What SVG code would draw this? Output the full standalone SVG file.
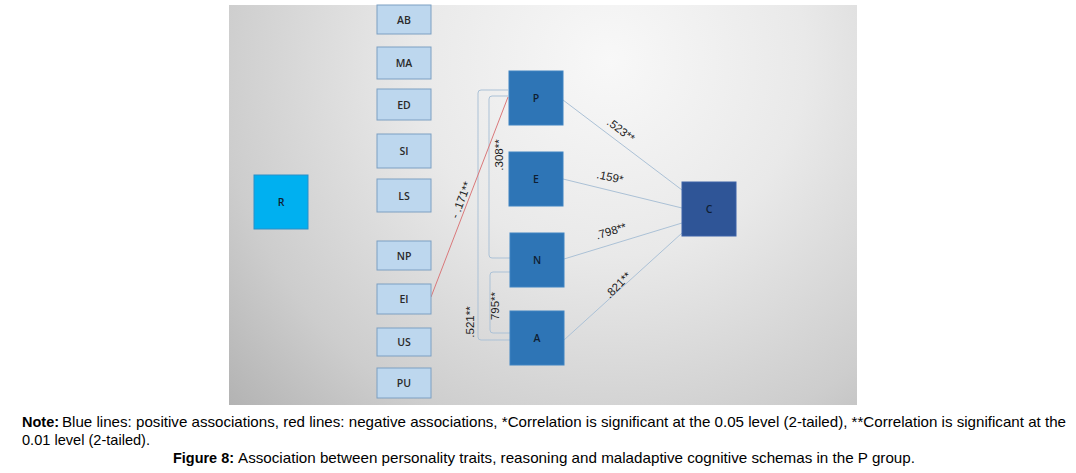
<svg xmlns="http://www.w3.org/2000/svg" width="1076" height="473" viewBox="0 0 1076 473">
<defs>
<radialGradient id="bg" gradientUnits="userSpaceOnUse" cx="610" cy="60" r="560">
<stop offset="0" stop-color="#f8f8f8"/>
<stop offset="0.35" stop-color="#e9e9e9"/>
<stop offset="0.7" stop-color="#cdcdcd"/>
<stop offset="1" stop-color="#a9a9a9"/>
</radialGradient>
<style>
.sch{fill:#bdd7ee;stroke:#7d9fc2;stroke-width:1}
.trait{fill:#2e75b6;stroke:#3f84c2;stroke-width:1}
.lbl{font-family:"Open Sans","Liberation Sans",sans-serif;font-size:10.5px;font-weight:600;fill:#2a2a2a;text-anchor:middle;dominant-baseline:central}
.dlbl{font-family:"Open Sans","Liberation Sans",sans-serif;font-size:10.5px;font-weight:600;fill:#0e1e33;text-anchor:middle;dominant-baseline:central}
.con{fill:none;stroke:#abc1d6;stroke-width:1}
.neg{fill:none;stroke:#d9787a;stroke-width:1}
.cl{font-family:"Liberation Sans",sans-serif;font-size:11.5px;fill:#1a1a1a;text-anchor:middle;dominant-baseline:central}
.cap{font-family:"Liberation Sans",Arial,sans-serif;font-size:14.5px;fill:#000}
</style>
</defs>
<rect x="0" y="0" width="1076" height="473" fill="#ffffff"/>
<rect x="229" y="5" width="628" height="400" fill="url(#bg)"/>

<g id="connectors">
<path class="con" d="M508,90 H481 Q478,90 478,93 V337 Q478,340 481,340 H510"/>
<path class="con" d="M508,96 H492 Q489,96 489,99 V255 Q489,258 492,258 H510"/>
<path class="con" d="M510,272 H493 Q490,272 490,275 V330 Q490,333 493,333 H510"/>
<path class="neg" d="M431,297 L508,97"/>
<path class="con" d="M563,100 L682,190"/>
<path class="con" d="M563,179 L682,208"/>
<path class="con" d="M564,259 L682,223"/>
<path class="con" d="M564,340 L682,233"/>
<text class="cl" transform="translate(499,155) rotate(-90)">.308**</text>
<text class="cl" transform="translate(461,200) rotate(-69)">- .171**</text>
<text class="cl" transform="translate(470,322) rotate(-90)">.521**</text>
<text class="cl" transform="translate(495,306) rotate(-90)">795**</text>
<text class="cl" transform="translate(621,130) rotate(37)">.523**</text>
<text class="cl" transform="translate(610,177) rotate(12)">.159*</text>
<text class="cl" transform="translate(611,231) rotate(-17)">.798**</text>
<text class="cl" transform="translate(618,285) rotate(-45)">.821**</text>
</g>

<g id="R"><rect x="254" y="175" width="54" height="54" fill="#00b0f0" stroke="#2a8fc8" stroke-width="1"/><text class="dlbl" x="281" y="202">R</text></g>

<g id="AB"><rect class="sch" x="377" y="5" width="54" height="29"/><text class="lbl" x="404" y="20">AB</text></g>
<g id="MA"><rect class="sch" x="377" y="47" width="54" height="32"/><text class="lbl" x="404" y="63">MA</text></g>
<g id="ED"><rect class="sch" x="377" y="89" width="54" height="31"/><text class="lbl" x="404" y="104.5">ED</text></g>
<g id="SI"><rect class="sch" x="377" y="134" width="54" height="34"/><text class="lbl" x="404" y="151">SI</text></g>
<g id="LS"><rect class="sch" x="377" y="179" width="54" height="33"/><text class="lbl" x="404" y="195.5">LS</text></g>
<g id="NP"><rect class="sch" x="377" y="241" width="54" height="29"/><text class="lbl" x="404" y="255.5">NP</text></g>
<g id="EI"><rect class="sch" x="377" y="284" width="54" height="30"/><text class="lbl" x="404" y="299">EI</text></g>
<g id="US"><rect class="sch" x="377" y="328" width="54" height="28"/><text class="lbl" x="404" y="342">US</text></g>
<g id="PU"><rect class="sch" x="377" y="368" width="54" height="30"/><text class="lbl" x="404" y="383">PU</text></g>

<g id="P"><rect class="trait" x="509" y="71" width="54" height="54"/><text class="dlbl" x="536" y="98">P</text></g>
<g id="E"><rect class="trait" x="509" y="152" width="54" height="54"/><text class="dlbl" x="536" y="179">E</text></g>
<g id="N"><rect class="trait" x="510" y="233" width="54" height="54"/><text class="dlbl" x="537" y="260">N</text></g>
<g id="A"><rect class="trait" x="510" y="311" width="54" height="54"/><text class="dlbl" x="537" y="338">A</text></g>
<g id="C"><rect x="682" y="182" width="54" height="54" fill="#2f5597" stroke="#3d63a8" stroke-width="1"/><text class="dlbl" x="709" y="209">C</text></g>

<g id="caption">
<text class="cap" x="22" y="427" font-weight="bold">Note:</text>
<text class="cap" x="62" y="427" textLength="1004" lengthAdjust="spacingAndGlyphs">Blue lines: positive associations, red lines: negative associations, *Correlation is significant at the 0.05 level (2-tailed), **Correlation is significant at the</text>
<text class="cap" x="22" y="445" textLength="128" lengthAdjust="spacingAndGlyphs">0.01 level (2-tailed).</text>
<text class="cap" x="173" y="463" font-weight="bold" textLength="61" lengthAdjust="spacingAndGlyphs">Figure 8:</text>
<text class="cap" x="238" y="463" textLength="677" lengthAdjust="spacingAndGlyphs">Association between personality traits, reasoning and maladaptive cognitive schemas in the P group.</text>
</g>
</svg>
